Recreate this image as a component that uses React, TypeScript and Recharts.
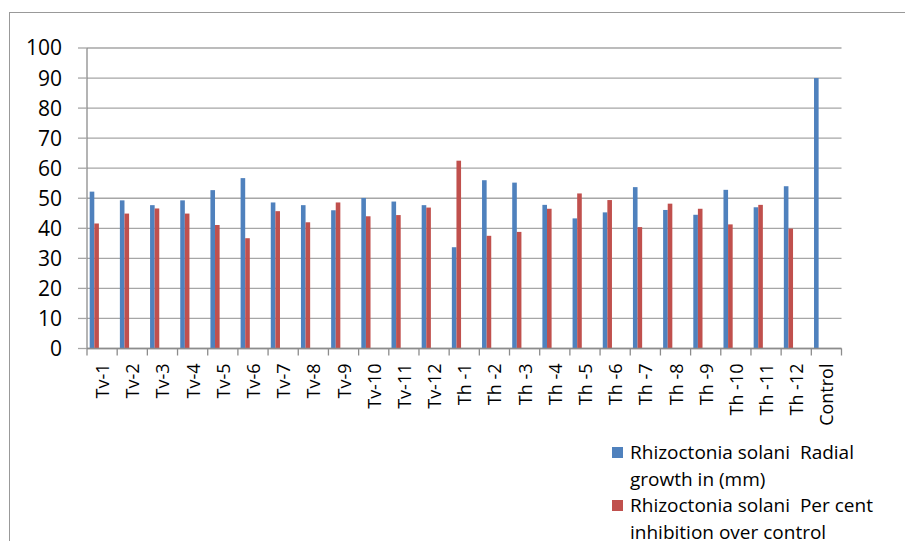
import { BarChart, Bar, XAxis, YAxis, CartesianGrid, Legend } from "recharts";

const categories = [
  "Tv-1", "Tv-2", "Tv-3", "Tv-4", "Tv-5", "Tv-6", "Tv-7", "Tv-8", "Tv-9", "Tv-10", "Tv-11", "Tv-12",
  "Th -1", "Th -2", "Th -3", "Th -4", "Th -5", "Th -6", "Th -7", "Th -8", "Th -9", "Th -10", "Th -11", "Th -12",
  "Control",
];

// radial growth of R. solani (mm)
const radialGrowth = [
  52.2, 49.3, 47.7, 49.3, 52.7, 56.7, 48.6, 47.7, 46.0, 50.1, 48.9, 47.7,
  33.7, 56.0, 55.2, 47.8, 43.3, 45.3, 53.7, 46.1, 44.5, 52.8, 47.0, 54.0,
  90.0,
];

// per cent inhibition over control
const inhibition = [
  41.6, 44.9, 46.6, 44.9, 41.1, 36.7, 45.7, 42.0, 48.6, 44.0, 44.4, 46.9,
  62.5, 37.5, 38.8, 46.5, 51.6, 49.4, 40.4, 48.2, 46.5, 41.3, 47.8, 39.9,
  0,
];

const yTicks = [0, 10, 20, 30, 40, 50, 60, 70, 80, 90, 100];

const legendLines = [
  ["Rhizoctonia solani  Radial", "growth in (mm)"],
  ["Rhizoctonia solani  Per cent", "inhibition over control"],
];

const data = categories.map((name, i) => ({
  name,
  growth: radialGrowth[i],
  inhibition: inhibition[i],
}));

const BLUE = "#4f81bd";
const RED = "#c0504d";
const GRID = "#a6a6a6";
const AXIS = "#8c8c8c";
const FONT = "'Open Sans', sans-serif";

// bars sit toward the left of each category slot
const BAR_SHIFT = 7.3;

function ShiftedBar(props: any) {
  const { x, y, width, height, fill } = props;
  if (!height || height <= 0) return <g />;
  return <rect x={x - BAR_SHIFT} y={y} width={width} height={height} fill={fill} />;
}

// category label rotated, with tick marks between categories
function CategoryTick(props: any) {
  const { x, y, payload, index, visibleTicksCount } = props;
  const half = payload.offset ?? 0;
  const ty = y + 15;
  return (
    <g>
      <line x1={x - half} x2={x - half} y1={y} y2={y + 7} stroke={AXIS} strokeWidth={1.3} />
      {index === visibleTicksCount - 1 && (
        <line x1={x + half} x2={x + half} y1={y} y2={y + 7} stroke={AXIS} strokeWidth={1.3} />
      )}
      <text
        x={x}
        y={ty}
        transform={`rotate(-90, ${x}, ${ty})`}
        textAnchor="end"
        dominantBaseline="central"
        fontSize={18}
        fontFamily={FONT}
        fill="#000"
      >
        {payload.value}
      </text>
    </g>
  );
}

function LegendBox() {
  const colors = [BLUE, RED];
  return (
    <div style={{ fontFamily: FONT, fontSize: 19, lineHeight: "26.5px", color: "#000" }}>
      {legendLines.map((lines, i) => (
        <div key={i} style={{ display: "flex", alignItems: "flex-start" }}>
          <span
            style={{
              display: "inline-block",
              width: 11,
              height: 11,
              background: colors[i],
              marginTop: 8,
              marginRight: 7,
              flexShrink: 0,
            }}
          />
          <span style={{ whiteSpace: "pre" }}>
            {lines[0]}
            <br />
            {lines[1]}
          </span>
        </div>
      ))}
    </div>
  );
}

export default function App() {
  return (
    <div style={{ position: "absolute", left: 0, top: 0, width: 905, height: 541, background: "#fff" }}>
      <div
        style={{
          position: "absolute",
          left: 9,
          top: 12,
          right: 0,
          bottom: 0,
          borderTop: "1.5px solid #999",
          borderLeft: "1.5px solid #999",
        }}
      />
      <BarChart
        width={905}
        height={541}
        data={data}
        margin={{ top: 48, right: 63.5, left: 0, bottom: 0 }}
        barGap={0}
        barSize={4.6}
      >
        <CartesianGrid vertical={false} stroke={GRID} strokeWidth={1.3} />
        <YAxis
          width={87}
          domain={[0, 100]}
          ticks={yTicks}
          interval={0}
          tickSize={9}
          tickMargin={16}
          axisLine={{ stroke: AXIS, strokeWidth: 1.3 }}
          tickLine={{ stroke: GRID, strokeWidth: 1.3 }}
          tick={{ fontSize: 21, fontFamily: FONT, fill: "#000" }}
        />
        <XAxis
          dataKey="name"
          height={192.5}
          interval={0}
          tickSize={0}
          tickMargin={0}
          tickLine={false}
          axisLine={{ stroke: AXIS, strokeWidth: 1.3 }}
          tick={<CategoryTick />}
        />
        <Legend
          layout="vertical"
          align="center"
          verticalAlign="middle"
          wrapperStyle={{ left: 612, top: 439, width: 290, height: 110 }}
          content={<LegendBox />}
        />
        <Bar dataKey="growth" fill={BLUE} shape={<ShiftedBar />} isAnimationActive={false} />
        <Bar dataKey="inhibition" fill={RED} shape={<ShiftedBar />} isAnimationActive={false} />
      </BarChart>
    </div>
  );
}
